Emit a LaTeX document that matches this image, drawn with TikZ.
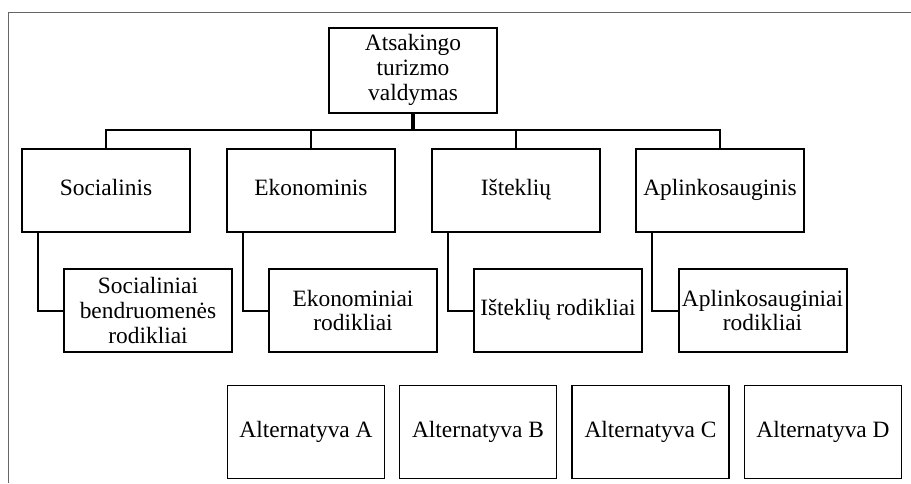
\documentclass[tikz,border=0pt]{standalone}
\usepackage{fontspec}
\setmainfont{Liberation Serif}
\usetikzlibrary{positioning}

\tikzset{
  box/.style={draw, line width=1pt, minimum width=84pt, minimum height=41.5pt,
    inner sep=1pt, align=center, font=\fontsize{11.7}{12.4}\selectfont},
  onebox/.style={box, text height=8pt, text depth=2.6pt},
  altbox/.style={onebox, line width=0.85pt, minimum width=78.5pt, minimum height=46.5pt},
  conn/.style={line width=1pt},
}

\begin{document}
\begin{tikzpicture}[x=0.5pt, y=-0.5pt]
  \useasboundingbox (0,0) rectangle (911,483);
  % frame
  \draw[black!60, line width=0.4pt] (8,483) -- (8,12) -- (911,12);
  % top
  \node[box, minimum height=42.5pt] (top) at (413,70) {Atsakingo\\turizmo\\valdymas};
  % second level
  \node[onebox] (soc) at (106,190) {Socialinis};
  \node[onebox] (eko) at (311,190) {Ekonominis};
  \node[onebox] (ist) at (516,190) {Išteklių};
  \node[onebox] (apl) at (720,190) {Aplinkosauginis};
  % indicators
  \node[box] (socr) at (148,310.5) {Socialiniai\\bendruomenės\\rodikliai};
  \node[box] (ekor) at (353,310.5) {Ekonominiai\\rodikliai};
  \node[onebox] (istr) at (558,310.5) {Išteklių rodikliai};
  \node[box] (aplr) at (762.5,310.5) {Aplinkosauginiai\\rodikliai};
  % alternatives
  \node[altbox] (altA) at (306,432) {Alternatyva A};
  \node[altbox] (altB) at (478,432) {Alternatyva B};
  \node[altbox] (altC) at (650.5,432) {Alternatyva C};
  \node[altbox] (altD) at (823,432) {Alternatyva D};
  % connectors
  \coordinate (bus) at (top.south |- 0,130);
  \draw[line width=2pt] (top.south) -- (bus);
  \foreach \n in {soc,eko,ist,apl}
    \draw[conn] (bus) -| (\n.north);
  \foreach \a/\b in {soc/socr,eko/ekor,ist/istr,apl/aplr}
    \draw[conn] ([xshift=8.5pt]\a.south west) |- (\b.west);
\end{tikzpicture}
\end{document}
